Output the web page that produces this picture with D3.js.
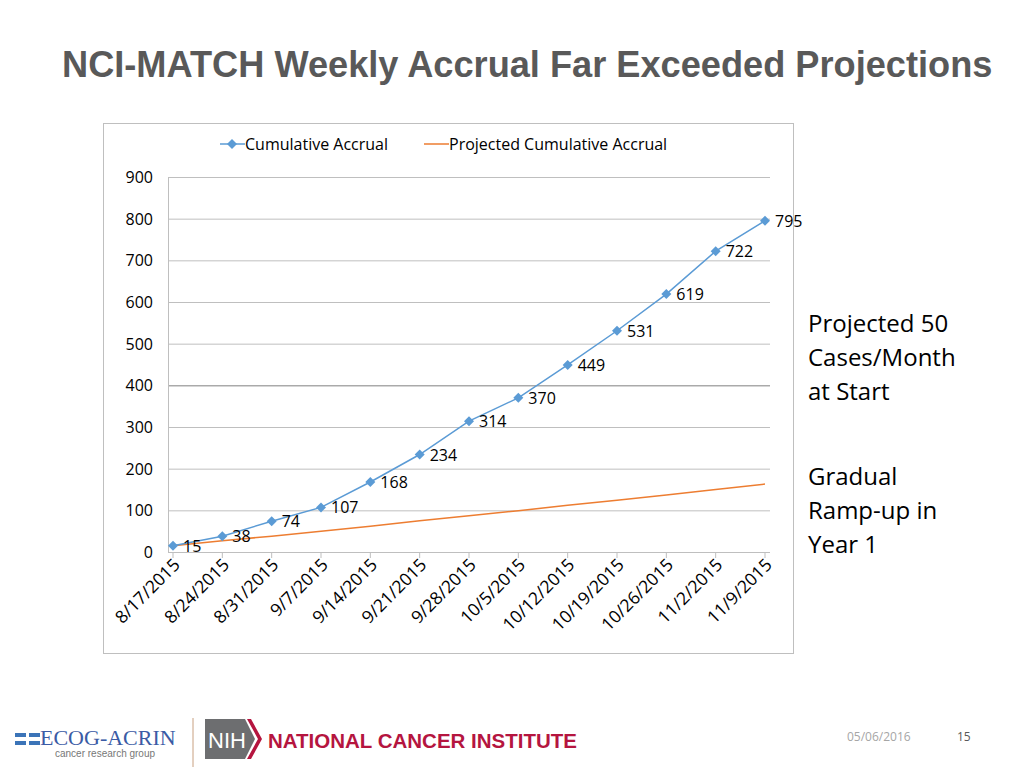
<!DOCTYPE html>
<html><head><meta charset="utf-8">
<script src="https://cdn.jsdelivr.net/npm/d3@7"></script>
<style>body{margin:0;background:#fff}svg{display:block}</style></head>
<body><svg id="c" width="1024" height="768"></svg>
<script>
const dates=["8/17/2015","8/24/2015","8/31/2015","9/7/2015","9/14/2015","9/21/2015","9/28/2015","10/5/2015","10/12/2015","10/19/2015","10/26/2015","11/2/2015","11/9/2015"];
const actual=[15,38,74,107,168,234,314,370,449,531,619,722,795];
const projected=[15,27,38,50,62,75,87,99,112,124,137,150,163];
const yTicks=[0,100,200,300,400,500,600,700,800,900];

const svg=d3.select("#c");
const F="Open Sans, Noto Sans, sans-serif";
svg.append("text").attr("x",62).attr("y",77).attr("font-family","Liberation Sans, Arial, sans-serif")
 .attr("font-weight","bold").attr("font-size",36.2).attr("fill","#595959").text("NCI-MATCH Weekly Accrual Far Exceeded Projections");
svg.append("rect").attr("x",103.5).attr("y",123.5).attr("width",690).attr("height",530).attr("fill","#fff").attr("stroke","#bfbfbf");

const x=d3.scalePoint().domain(dates).range([173,765]);
const y=d3.scaleLinear().domain([0,900]).range([552,177]);
const g=svg.append("g");
g.selectAll("line.grid").data(yTicks).join("line").attr("x1",168).attr("x2",770)
 .attr("y1",d=>y(d)+.5).attr("y2",d=>y(d)+.5).attr("stroke",d=>d===400?"#808080":"#bfbfbf");
g.append("line").attr("x1",168.5).attr("x2",168.5).attr("y1",y(900)).attr("y2",552).attr("stroke","#bfbfbf");
g.selectAll("text.yt").data(yTicks).join("text").attr("x",153).attr("y",d=>y(d)+6).attr("text-anchor","end")
 .attr("font-family",F).attr("font-size",16).attr("fill","#000").text(d=>d);
g.selectAll("line.xt").data(dates).join("line").attr("x1",d=>x(d)).attr("x2",d=>x(d)).attr("y1",552).attr("y2",558).attr("stroke","#bfbfbf");
g.selectAll("text.xl").data(dates).join("text").attr("font-family",F).attr("font-size",17.5).attr("text-anchor","end")
 .attr("transform",d=>`translate(${x(d)+8},${566}) rotate(-45)`).text(d=>d);

const line=d3.line().x((d,i)=>x(dates[i])).y(d=>y(d));
g.append("path").datum(projected).attr("d",line).attr("fill","none").attr("stroke","#ed7d31").attr("stroke-width",1.5);
g.append("path").datum(actual).attr("d",line).attr("fill","none").attr("stroke","#5b9bd5").attr("stroke-width",1.5);
const dia="M0,-5L5,0L0,5L-5,0Z";
g.selectAll("path.m").data(actual).join("path").attr("d",dia).attr("fill","#5b9bd5")
 .attr("transform",(d,i)=>`translate(${x(dates[i])},${y(d)})`);
g.selectAll("text.dl").data(actual).join("text").attr("font-family",F).attr("font-size",16)
 .attr("x",(d,i)=>x(dates[i])+10).attr("y",d=>y(d)+6).text(d=>d);

// legend
const lg=svg.append("g").attr("font-family",F).attr("font-size",16);
lg.append("line").attr("x1",220).attr("x2",245).attr("y1",144).attr("y2",144).attr("stroke","#5b9bd5").attr("stroke-width",1.5);
lg.append("path").attr("d",dia).attr("fill","#5b9bd5").attr("transform","translate(232,144)");
lg.append("text").attr("x",245).attr("y",150).text("Cumulative Accrual");
lg.append("line").attr("x1",424).attr("x2",449).attr("y1",144).attr("y2",144).attr("stroke","#ed7d31").attr("stroke-width",1.5);
lg.append("text").attr("x",449).attr("y",150).text("Projected Cumulative Accrual");

// side text
const st=svg.append("g").attr("font-family",F).attr("font-size",24).attr("fill","#000");
[["Projected 50",332],["Cases/Month",366],["at Start",400],["Gradual",485],["Ramp-up in",519],["Year 1",553]]
 .forEach(([t,yy])=>st.append("text").attr("x",808).attr("y",yy).text(t));

// footer
svg.append("text").attr("x",847).attr("y",741).attr("font-family",F).attr("font-size",12).attr("fill","#a6a6a6").text("05/06/2016");
svg.append("text").attr("x",957).attr("y",741).attr("font-family",F).attr("font-size",12).attr("fill","#595959").text("15");
const lo=svg.append("g").attr("transform","translate(0,713)");
[20,28].forEach(yy=>{lo.append("rect").attr("x",15).attr("y",yy).attr("width",11).attr("height",4).attr("fill","#3b74b8");
 lo.append("rect").attr("x",29).attr("y",yy).attr("width",11).attr("height",4).attr("fill","#3b74b8");});
lo.append("text").attr("x",40).attr("y",32).attr("font-family","Liberation Serif, serif").attr("font-size",22).attr("fill","#3b5ba5").text("ECOG-ACRIN");
lo.append("text").attr("x",55).attr("y",44).attr("font-family","Liberation Sans, sans-serif").attr("font-size",10).attr("fill","#777").text("cancer research group");
lo.append("line").attr("x1",193).attr("x2",193).attr("y1",5).attr("y2",54).attr("stroke","#c8a080");
lo.append("path").attr("d","M205 6 H245 L255 26 L245 46 H205 Z").attr("fill","#6d6e70");
lo.append("path").attr("d","M247 6 L258 26 L247 46 L251 46 L262 26 L251 6Z").attr("fill","#b5153f");
lo.append("text").attr("x",208).attr("y",35).attr("font-family","Liberation Sans, sans-serif").attr("font-size",22).attr("fill","#fff").text("NIH");
lo.append("text").attr("x",268).attr("y",35).attr("font-family","Liberation Sans, sans-serif").attr("font-weight","bold").attr("font-size",20.5).attr("fill","#b5153f").text("NATIONAL CANCER INSTITUTE");
</script></body></html>
